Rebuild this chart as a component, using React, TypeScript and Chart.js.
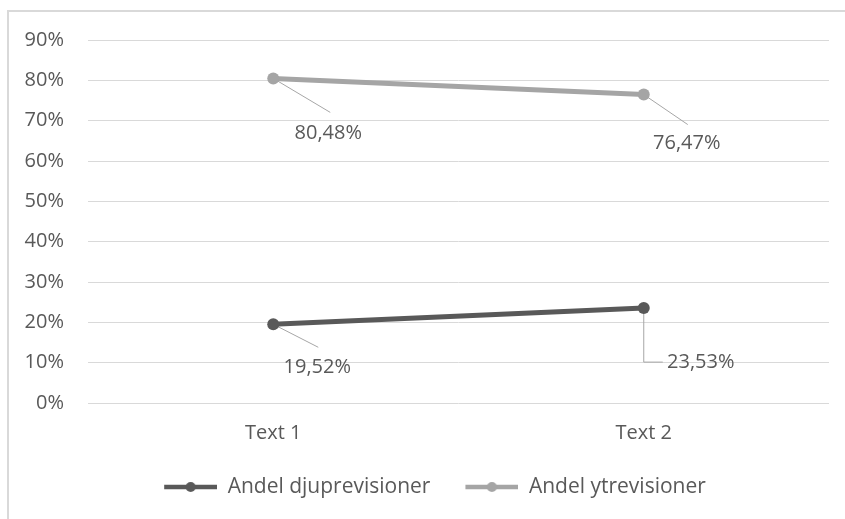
import { useEffect, useRef } from 'react';
import { Chart, registerables } from 'chart.js';

Chart.register(...registerables);

const categories = ['Text 1', 'Text 2'];
const seriesNames = ['Andel djuprevisioner', 'Andel ytrevisioner'];
const djupValues = [19.52, 23.53];
const ytValues = [80.48, 76.47];
const seriesColors = ['#595959', '#a5a5a5'];

const FONT = "'Open Sans', sans-serif";
const TEXT_COLOR = '#595959';

// Where each value label sits relative to its point, and where its leader line ends.
const labelPlacement = [
  [
    { dx: 44, dy: 43, lx: 45, ly: 23, elbow: false },
    { dx: 57, dy: 54, lx: 19, ly: 54, elbow: true },
  ],
  [
    { dx: 55, dy: 55, lx: 57, ly: 34, elbow: false },
    { dx: 43, dy: 49, lx: 44, ly: 30, elbow: false },
  ],
];

const formatPercent = (v: number) => v.toFixed(2).replace('.', ',') + '%';

// Legend swatch: a short thick line with a dot in the middle, left-padded for spacing.
function makeMarker(color: string): HTMLCanvasElement {
  const c = document.createElement('canvas');
  c.width = 78;
  c.height = 14;
  const ctx = c.getContext('2d')!;
  ctx.strokeStyle = color;
  ctx.lineWidth = 4.5;
  ctx.beginPath();
  ctx.moveTo(25, 7);
  ctx.lineTo(78, 7);
  ctx.stroke();
  ctx.fillStyle = color;
  ctx.beginPath();
  ctx.arc(51.5, 7, 5, 0, Math.PI * 2);
  ctx.fill();
  return c;
}

const leaderLabels = {
  id: 'leaderLabels',
  beforeDatasetsDraw(chart: any) {
    const ctx = chart.ctx;
    chart.data.datasets.forEach((_ds: any, di: number) => {
      const meta = chart.getDatasetMeta(di);
      meta.data.forEach((pt: any, i: number) => {
        const p = labelPlacement[di][i];
        ctx.save();
        ctx.strokeStyle = '#a6a6a6';
        ctx.lineWidth = 1;
        ctx.beginPath();
        ctx.moveTo(pt.x, pt.y);
        if (p.elbow) {
          ctx.lineTo(pt.x, pt.y + p.ly);
          ctx.lineTo(pt.x + p.lx, pt.y + p.ly);
        } else {
          ctx.lineTo(pt.x + p.lx, pt.y + p.ly);
        }
        ctx.stroke();
        ctx.restore();
      });
    });
  },
  afterDatasetsDraw(chart: any) {
    const ctx = chart.ctx;
    chart.data.datasets.forEach((ds: any, di: number) => {
      const meta = chart.getDatasetMeta(di);
      meta.data.forEach((pt: any, i: number) => {
        const p = labelPlacement[di][i];
        ctx.save();
        ctx.font = `20px ${FONT}`;
        ctx.fillStyle = TEXT_COLOR;
        ctx.textAlign = 'center';
        ctx.textBaseline = 'middle';
        ctx.fillText(formatPercent(ds.data[i]), pt.x + p.dx, pt.y + p.dy);
        ctx.restore();
      });
    });
  },
};

export default function App() {
  const canvasRef = useRef<HTMLCanvasElement | null>(null);

  useEffect(() => {
    if (!canvasRef.current) return;
    Chart.defaults.font.family = FONT;
    const markers = seriesColors.map(makeMarker);

    const chart = new Chart(canvasRef.current, {
      type: 'line',
      data: {
        labels: categories,
        datasets: [
          {
            label: seriesNames[0],
            data: djupValues,
            borderColor: seriesColors[0],
            backgroundColor: seriesColors[0],
            pointBackgroundColor: seriesColors[0],
            pointBorderColor: seriesColors[0],
            borderWidth: 5,
            pointRadius: 6,
            pointBorderWidth: 0,
            tension: 0,
          },
          {
            label: seriesNames[1],
            data: ytValues,
            borderColor: seriesColors[1],
            backgroundColor: seriesColors[1],
            pointBackgroundColor: seriesColors[1],
            pointBorderColor: seriesColors[1],
            borderWidth: 5,
            pointRadius: 6,
            pointBorderWidth: 0,
            tension: 0,
          },
        ],
      },
      options: {
        responsive: false,
        animation: false,
        layout: { padding: { left: 16, right: 16, top: 40, bottom: 11.5 } },
        scales: {
          x: {
            type: 'category',
            offset: true,
            grid: { display: false, drawTicks: false },
            border: { display: false },
            ticks: { color: TEXT_COLOR, font: { size: 20 }, padding: 18 },
            afterFit: (s: any) => {
              s.height = 63.5;
            },
          },
          y: {
            min: 0,
            max: 90,
            ticks: {
              stepSize: 10,
              color: TEXT_COLOR,
              font: { size: 20 },
              padding: 24,
              callback: (v: any) => v + '%',
            },
            grid: { color: '#d9d9d9', lineWidth: 1, drawTicks: false },
            border: { display: false },
            afterFit: (s: any) => {
              s.width = 72;
            },
          },
        },
        plugins: {
          tooltip: { enabled: false },
          legend: {
            position: 'bottom',
            labels: {
              color: TEXT_COLOR,
              font: { size: 21 },
              padding: 10,
              usePointStyle: true,
              pointStyleWidth: 78,
              generateLabels: (c: any) => {
                const items = Chart.defaults.plugins.legend.labels.generateLabels(c);
                items.forEach((it: any, i: number) => {
                  it.pointStyle = markers[i];
                });
                return items;
              },
            },
          },
        },
      } as any,
      plugins: [leaderLabels],
    });

    return () => chart.destroy();
  }, []);

  return (
    <div
      style={{
        position: 'fixed',
        left: 0,
        top: 0,
        width: 845,
        height: 519,
        background: '#ffffff',
        overflow: 'hidden',
      }}
    >
      <div
        style={{
          position: 'absolute',
          left: 7,
          top: 10,
          width: 845,
          height: 519,
          borderLeft: '2px solid #d9d9d9',
          borderTop: '2px solid #d9d9d9',
        }}
      />
      <canvas
        ref={canvasRef}
        width={845}
        height={519}
        style={{ position: 'absolute', left: 0, top: 0, width: 845, height: 519 }}
      />
    </div>
  );
}
